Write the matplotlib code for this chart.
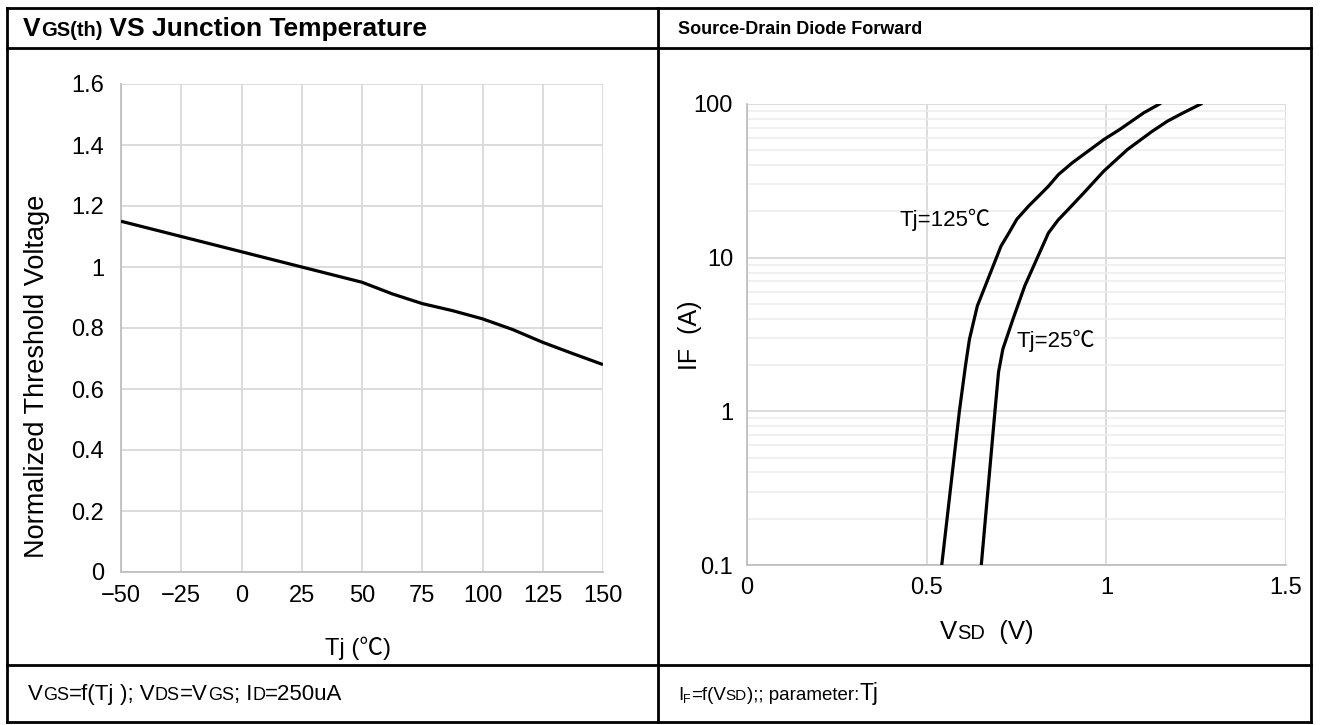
import matplotlib
matplotlib.use("Agg")
import matplotlib.pyplot as plt
from matplotlib.lines import Line2D
from matplotlib.ticker import FixedLocator, NullFormatter, LogLocator

FAM = ['Liberation Sans', 'Noto Sans CJK KR', 'DejaVu Sans']
plt.rcParams['font.family'] = FAM

# ---------------- data ----------------
tj = [-50, -37.5, -25, -12.5, 0, 12.5, 25, 37.5, 50, 62.5, 75, 87.5, 100, 112.5, 125, 137.5, 150]
vth_norm = [1.15, 1.125, 1.10, 1.075, 1.05, 1.025, 1.00, 0.975, 0.95, 0.912, 0.88, 0.857,
            0.83, 0.795, 0.753, 0.716, 0.68]
left_xticks = [-50, -25, 0, 25, 50, 75, 100, 125, 150]
left_xticklabels = ['\u221250', '\u221225', '0', '25', '50', '75', '100', '125', '150']
left_yticks = [0, 0.2, 0.4, 0.6, 0.8, 1.0, 1.2, 1.4, 1.6]
left_yticklabels = ['0', '0.2', '0.4', '0.6', '0.8', '1', '1.2', '1.4', '1.6']

vsd_125 = [0.542, 0.591, 0.608, 0.619, 0.630, 0.641, 0.663, 0.685, 0.707, 0.729, 0.751, 0.784,
           0.812, 0.839, 0.867, 0.905, 0.949, 0.993, 1.037, 1.104, 1.148]
if_125 = [0.1, 1.0, 1.98, 2.94, 3.78, 4.85, 6.54, 8.83, 11.9, 14.5, 17.8, 21.7,
          25.2, 29.2, 34.8, 41.4, 49.3, 58.7, 68.2, 87.6, 100]
vsd_25 = [0.652, 0.690, 0.700, 0.712, 0.740, 0.773, 0.806, 0.839, 0.866, 0.894, 0.938, 0.993,
          1.059, 1.126, 1.170, 1.214, 1.263]
if_25 = [0.1, 1.0, 1.8, 2.54, 3.97, 6.55, 9.75, 14.5, 17.6, 20.6, 26.5, 36.6,
         50.6, 66.0, 77.3, 87.6, 100]
right_xticks = [0, 0.5, 1.0, 1.5]
right_xticklabels = ['0', '0.5', '1', '1.5']
right_yticks = [0.1, 1, 10, 100]
right_yticklabels = ['0.1', '1', '10', '100']
label_125 = ("Tj=125\u2103", 0.550, 17.7)
label_25 = ("Tj=25\u2103", 0.860, 2.88)

# ---------------- figure ----------------
W, H = 1320, 725
fig = plt.figure(figsize=(W / 100, H / 100), dpi=100)
fig.patch.set_facecolor('white')


def fx(px):
    return px / W


def fy(py):
    return 1 - py / H


def hline(y, x0, x1):
    fig.add_artist(Line2D([fx(x0), fx(x1)], [fy(y), fy(y)], transform=fig.transFigure,
                          color='black', lw=2.0, solid_capstyle='projecting'))


def vline(x, y0, y1):
    fig.add_artist(Line2D([fx(x), fx(x)], [fy(y0), fy(y1)], transform=fig.transFigure,
                          color='black', lw=2.0, solid_capstyle='projecting'))


L, R, T, B = 7, 1311, 8, 722
TITLE_B, FOOT_T, MID = 48, 665, 658
hline(T, L, R)
hline(B, L, R)
hline(TITLE_B, L, R)
hline(FOOT_T, L, R)
vline(L, T, B)
vline(R, T, B)
vline(MID, T, B)

renderer = fig.canvas.get_renderer()


def measure(parts):
    w = 0
    for txt, size, weight, dy in parts:
        t = fig.text(0, 0, txt, fontsize=size, fontweight=weight, family=FAM)
        w += t.get_window_extent(renderer).width
        t.remove()
    return w


def rich(x_px, base_px, parts):
    """parts: list of (text, size, weight, dy_px)"""
    x = x_px
    for txt, size, weight, dy in parts:
        t = fig.text(fx(x), fy(base_px - dy), txt, fontsize=size, fontweight=weight,
                     ha='left', va='baseline', family=FAM)
        bb = t.get_window_extent(renderer)
        x += bb.width
    return x


# titles
rich(23, 36, [("V", 19, 'bold', 0), ("GS(th)", 14.5, 'bold', 0), (" VS Junction Temperature", 19, 'bold', 0)])
rich(678, 34, [("Source-Drain Diode Forward", 13, 'bold', 0)])

# footers
rich(28, 700, [("V", 16, 'normal', 0), ("GS", 13, 'normal', 0), ("=f(Tj", 16, 'normal', 0),
               (" ); V", 16, 'normal', 0), ("DS", 13, 'normal', 0), ("=V", 16, 'normal', 0),
               ("GS", 13, 'normal', 0), ("; I", 16, 'normal', 0), ("D", 13, 'normal', 0),
               ("=250uA", 16, 'normal', 0)])
rich(678, 700, [("I", 13.5, 'normal', 0), ("F", 9, 'normal', -3), ("=f(V", 13.5, 'normal', 0),
                ("SD", 11, 'normal', 0), (");; parameter:", 13.5, 'normal', 0), ("Tj", 16.5, 'normal', 0)])

GRID = '#d9d9d9'
SPINE = '#bfbfbf'
TICKFS = 17

# ---------------- left chart ----------------
ax1 = fig.add_axes([fx(121), fy(572), fx(603 - 121), (572 - 84) / H])
ax1.plot(tj, vth_norm, color='black', lw=2.3, solid_capstyle='butt', zorder=3)
ax1.set_xlim(-50, 150)
ax1.set_ylim(0, 1.6)
ax1.set_xticks(left_xticks)
ax1.set_xticklabels(left_xticklabels)
ax1.set_yticks(left_yticks)
ax1.set_yticklabels(left_yticklabels)
ax1.tick_params(length=0, labelsize=TICKFS, pad=9)
ax1.tick_params(axis='y', pad=12)
ax1.grid(True, color=GRID, lw=1.3)
ax1.set_axisbelow(True)
for s in ax1.spines.values():
    s.set_visible(False)
for side in ('left', 'bottom'):
    ax1.spines[side].set_visible(True)
    ax1.spines[side].set_color(SPINE)
    ax1.spines[side].set_linewidth(1.3)
ax1.set_ylabel("Normalized Threshold Voltage", fontsize=19.5)
ax1.yaxis.set_label_coords((37 - 121) / (603 - 121), (572 - 376) / (572 - 84))
ax1.yaxis.label.set_va('center')
ax1.set_xlabel("Tj (\u2103)", fontsize=17)
ax1.xaxis.set_label_coords((358 - 121) / (603 - 121), -(648 - 572) / (572 - 84))
ax1.xaxis.label.set_va('center')

# ---------------- right chart ----------------
ax2 = fig.add_axes([fx(747), fy(565), fx(1286 - 747), (565 - 104) / H])
ax2.plot(vsd_125, if_125, color='black', lw=2.3, zorder=3)
ax2.plot(vsd_25, if_25, color='black', lw=2.3, zorder=3)
ax2.set_yscale('log')
ax2.set_xlim(0, 1.5)
ax2.set_ylim(0.1, 100)
ax2.set_xticks(right_xticks)
ax2.set_xticklabels(right_xticklabels)
ax2.yaxis.set_major_locator(FixedLocator(right_yticks))
ax2.set_yticklabels(right_yticklabels)
ax2.yaxis.set_minor_locator(LogLocator(base=10, subs=range(2, 10)))
ax2.yaxis.set_minor_formatter(NullFormatter())
ax2.tick_params(which='both', length=0, labelsize=TICKFS, pad=9)
ax2.tick_params(axis='y', pad=10)
ax2.grid(True, which='major', color=GRID, lw=1.3)
ax2.grid(True, which='minor', axis='y', color='#eeeeee', lw=1.2)
ax2.set_axisbelow(True)
for s in ax2.spines.values():
    s.set_visible(False)
for side in ('left', 'bottom'):
    ax2.spines[side].set_visible(True)
    ax2.spines[side].set_color(SPINE)
    ax2.spines[side].set_linewidth(1.3)
ax2.set_ylabel("IF  (A)", fontsize=18)
ax2.yaxis.set_label_coords((690 - 747) / (1286 - 747), (565 - 335) / (565 - 104))
ax2.yaxis.label.set_va('center')
for txt, vx, vy in (label_125, label_25):
    ax2.text(vx, vy, txt, fontsize=16, ha='center', va='center', family=FAM)

# x label of right chart (with smaller SD)
parts = [("V", 18.5, 'normal', 0), ("SD", 14.5, 'normal', 0), ("  (V)", 18.5, 'normal', 0)]
rich(987 - measure(parts) / 2, 639, parts)

fig.savefig('out.png', dpi=100)
